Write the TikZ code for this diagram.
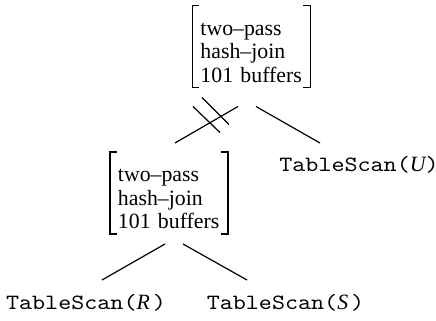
\documentclass[tikz,border=0pt]{standalone}
\usepackage{fontspec}
\setmainfont{Liberation Serif}
\newfontfamily\codefont[FakeStretch=1.14]{Latin Modern Mono}
\usetikzlibrary{calc}
\newcommand\relvar[1]{{\rmfamily\itshape #1}}
\newcommand\topstrut{\rule{0pt}{12.2pt}}
\tikzset{
  joinbox/.style={align=left, text width=51pt, inner xsep=4pt, inner ysep=0pt,
    minimum width=59pt, minimum height=41pt, outer sep=0pt,
    font=\fontsize{10.9}{11.75}\selectfont},
  scan/.style={anchor=base, inner sep=0pt, outer sep=0pt,
    font=\codefont\fontsize{10.9}{12}\selectfont},
  brk/.style={line width=0.6pt},
  edge/.style={line width=0.6pt},
}
\begin{document}
\begin{tikzpicture}[x=0.5pt, y=-0.5pt]
  \useasboundingbox (0,0) rectangle (436,321);
  % operator nodes
  \node[joinbox] (j1) at (251.5,46.5) {\topstrut two--pass\\hash--join\\101 buffers};
  \node[joinbox] (j2) at (169,193) {\topstrut two--pass\\hash--join\\101 buffers};
  % leaves
  \node[scan] (u) at (359,172) {TableScan(\relvar{U})};
  \node[scan] (r) at (86,310) {TableScan(\relvar{R}\hspace{1.5pt})};
  \node[scan] (s) at (285.5,310) {TableScan(\relvar{S}\hspace{1.5pt})};
  % brackets
  \foreach \n in {j1,j2}{
    \draw[brk] ([xshift=3.5pt]\n.north west) -- (\n.north west) -- (\n.south west) -- ([xshift=3.5pt]\n.south west);
    \draw[brk] ([xshift=-3.5pt]\n.north east) -- (\n.north east) -- (\n.south east) -- ([xshift=-3.5pt]\n.south east);
  }
  % connectors
  \draw[edge] ($(j1.south)+(-13.5,19)$) -- ($(j2.north)+(6,-9)$);
  \draw[edge] ($(j1.south)+(-58.5,19)$) -- ($(j1.south)+(-31.5,45)$);
  \draw[edge] ($(j1.south)+(-49.5,10)$) -- ($(j1.south)+(-22.5,37)$);
  \draw[edge] ($(j1.south)+(4.5,19)$) -- ($(u.base)+(-39,-29)$);
  \draw[edge] ($(j2.south)+(-4,10)$) -- ($(r.base)+(16,-30)$);
  \draw[edge] ($(j2.south)+(14,10)$) -- ($(s.base)+(-38.5,-30)$);
\end{tikzpicture}
\end{document}
